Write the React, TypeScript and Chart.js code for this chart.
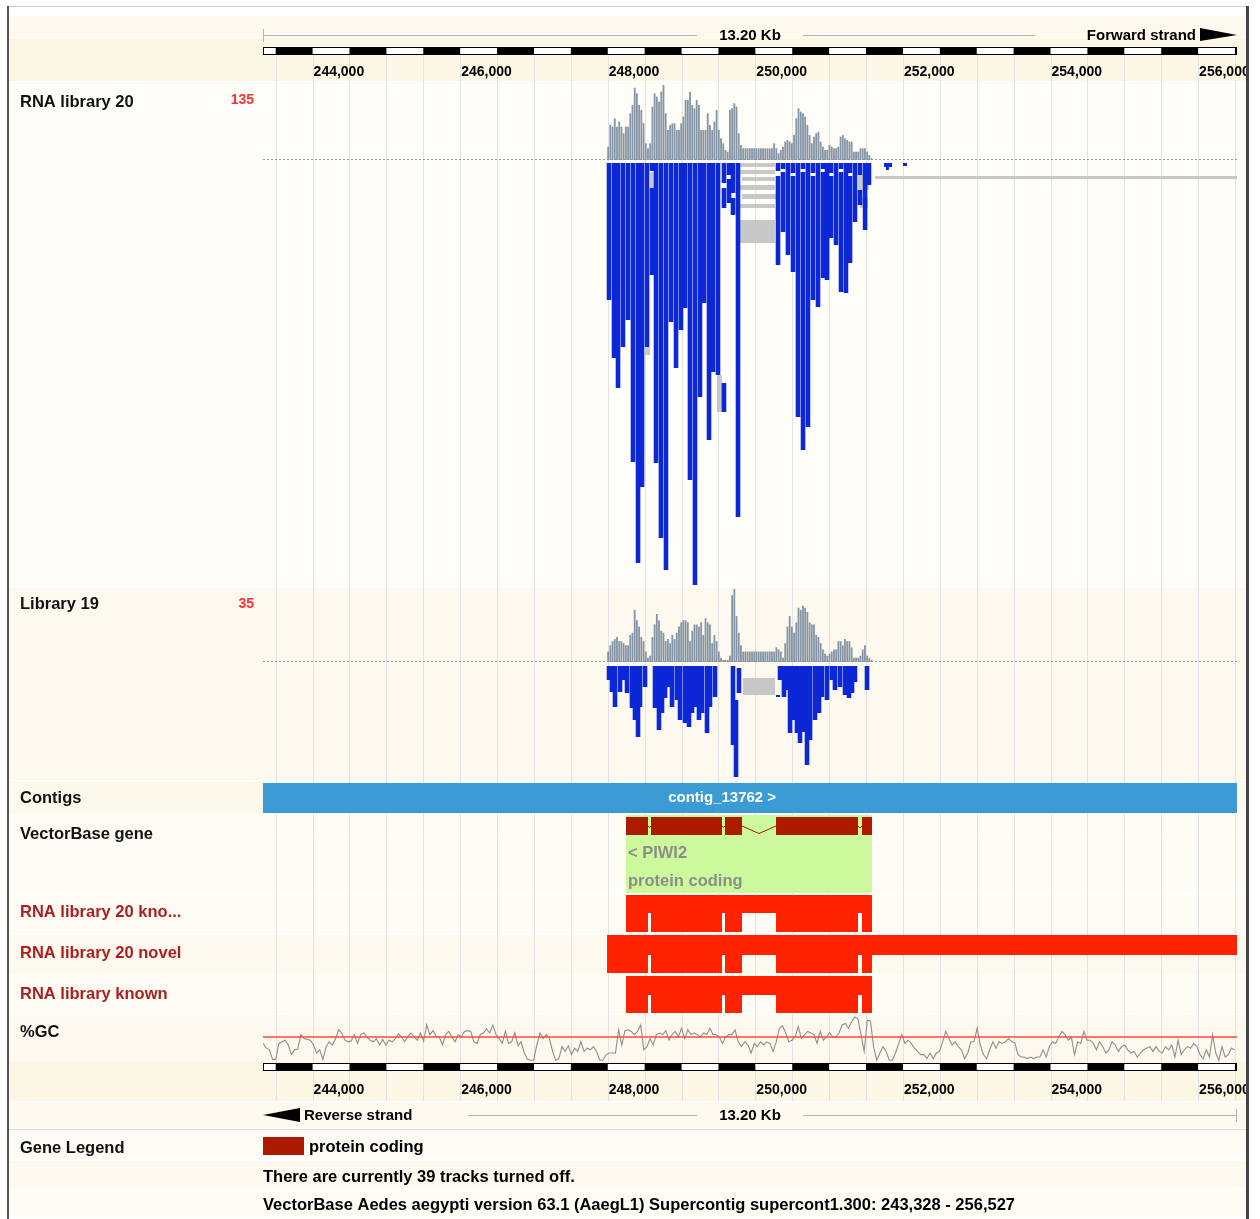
import React, { useEffect, useRef } from 'react';
import { Chart, registerables } from 'chart.js';

Chart.register(...registerables);

/* ======================= DATA ======================= */
const VIEW_START = 243328;
const VIEW_END = 256527;
const RULER_TICKS = [244000, 246000, 248000, 250000, 252000, 254000, 256000];
const GRID_STEP = 500;
const RULER_SEGMENT = 500;
const ASSEMBLY_TEXT = 'VectorBase Aedes aegypti version 63.1 (AaegL1) Supercontig supercont1.300';
const TRACKS_OFF = 39;

// coverage histograms (30 bp bins)
const COV_START = 247990;
const COV_BIN = 30;
const COV20_MAX = 135;
const COV20 = [
  24, 63, 60, 75, 60, 69, 60, 48, 60, 60, 84, 99, 130, 120, 99, 90, 66, 30, 21, 30,
  96, 120, 114, 105, 123, 135, 84, 54, 63, 66, 66, 54, 54, 66, 78, 108, 108, 123, 99, 93,
  108, 99, 54, 54, 54, 84, 63, 54, 69, 90, 54, 39, 30, 18, 15, 90, 93, 102, 96, 48,
  27, 21, 21, 21, 21, 21, 21, 21, 21, 21, 21, 21, 21, 21, 21, 30, 21, 12, 18, 24,
  33, 36, 33, 30, 45, 75, 93, 87, 84, 78, 63, 45, 30, 42, 48, 51, 33, 24, 18, 18,
  27, 24, 21, 21, 24, 42, 45, 39, 36, 33, 33, 15, 15, 15, 21, 21, 21, 15, 9, 3,
];
const COV19_MAX = 35;
const COV19 = [
  5, 8, 10, 11, 12, 10, 10, 9, 8, 8, 13, 14, 25, 20, 17, 12, 10, 5, 2, 3,
  12, 18, 23, 20, 15, 14, 10, 11, 9, 13, 11, 14, 17, 19, 20, 20, 19, 10, 15, 18,
  18, 17, 19, 13, 21, 19, 18, 9, 13, 10, 5, 2, 1, 1, 1, 3, 32, 35, 22, 14,
  8, 5, 5, 5, 5, 5, 5, 5, 5, 5, 5, 5, 5, 5, 5, 5, 7, 6, 5, 2,
  9, 17, 22, 17, 14, 19, 26, 25, 27, 26, 24, 19, 18, 18, 13, 12, 9, 6, 4, 3,
  4, 5, 6, 6, 10, 10, 8, 11, 10, 10, 7, 2, 2, 2, 3, 6, 8, 3, 2, 1,
];

// RNA library 20 read piles (position bp, depth from / to in read rows)
const R20_POS = [
  248017, 248085, 248139, 248206, 248274, 248342, 248410, 248464, 248532, 248600, 248600,
  248654, 248721, 248789, 248857, 248925, 248992, 249047, 249114, 249182, 249250, 249304,
  249372, 249426, 249494, 249575, 249575, 249575, 249643, 249643, 249697, 249697, 249765,
  250307, 250307, 250375, 250375, 250442, 250510, 250510, 250578, 250646, 250646, 250713,
  250781, 250781, 250849, 250917, 250917, 250971, 251025, 251025, 251093, 251161, 251161,
  251228, 251283, 251283, 251350, 251418, 251418, 251487, 251540,
];
const R20_FROM = [
  0, 0, 0, 0, 0, 0, 0, 0, 0, 0, 25,
  0, 0, 0, 0, 0, 0, 0, 0, 0, 0, 0,
  0, 0, 0, 0, 25, 220, 0, 16, 0, 35, 0,
  0, 13, 0, 9, 0, 0, 13, 0, 0, 9, 0,
  0, 13, 0, 0, 9, 0, 0, 13, 0, 0, 9,
  0, 0, 13, 0, 0, 27, 0, 0,
];
const R20_TO = [
  137, 195, 225, 184, 157, 299, 400, 324, 184, 8, 112,
  300, 375, 407, 159, 205, 167, 145, 317, 422, 234, 140,
  277, 209, 212, 20, 45, 249, 12, 40, 30, 52, 354,
  8, 102, 6, 69, 92, 10, 109, 254, 6, 287, 264,
  10, 137, 144, 6, 115, 117, 10, 75, 82, 6, 129,
  130, 10, 100, 59, 12, 42, 67, 22,
];
// RNA library 20 gapped / spliced parts (grey)
const G20_START = [249792, 249792, 249819, 249792, 249819, 249792, 249792, 249480, 248505, 248572, 251391, 251418, 251621];
const G20_END = [250266, 250266, 250266, 250266, 250280, 250266, 250266, 249548, 248572, 248640, 251540, 251527, 256527];
const G20_FROM = [0, 7, 14, 22, 31, 41, 57, 212, 184, 9, 12, 34, 13];
const G20_TO = [4, 11, 18, 27, 36, 45, 80, 249, 192, 25, 27, 45, 16];
// RNA library 20 short isolated reads
const B20_START = [251743, 251770, 252001];
const B20_END = [251852, 251810, 252055];
const B20_FROM = [0, 4, 0];
const B20_TO = [4, 7, 3];

// Library 19 read piles
const R19_POS = [
  248017, 248057, 248098, 248166, 248220, 248261, 248328, 248369, 248410, 248437, 248505,
  248640, 248694, 248735, 248776, 248830, 248871, 248938, 248979, 249047, 249101, 249142,
  249182, 249236, 249277, 249345, 249385, 249453, 249697, 249738, 249778,
  250334, 250388, 250429, 250470, 250524, 250564, 250605, 250659, 250700, 250741, 250808,
  250863, 250903, 250971, 251039, 251079, 251147, 251215, 251269, 251310, 251350, 251513,
];
const R19_FROM = [
  0, 0, 0, 0, 0, 0, 0, 0, 0, 0, 0,
  0, 0, 0, 0, 0, 0, 0, 0, 0, 0, 0,
  0, 0, 0, 0, 0, 0, 0, 34, 2,
  0, 0, 0, 0, 0, 0, 0, 0, 0, 0, 0,
  0, 0, 0, 0, 0, 0, 0, 0, 0, 0, 0,
];
const R19_TO = [
  14, 26, 41, 26, 14, 27, 42, 54, 71, 41, 21,
  42, 64, 47, 32, 21, 41, 34, 54, 57, 61, 47,
  41, 54, 47, 67, 41, 31, 79, 111, 27,
  14, 31, 24, 67, 54, 67, 77, 66, 99, 74, 54,
  47, 31, 34, 14, 24, 21, 29, 32, 27, 16, 24,
];
const G19_START = [249833];
const G19_END = [250266];
const G19_FROM = [12];
const G19_TO = [29];
const B19_START = [250280];
const B19_END = [250334];
const B19_FROM = [29];
const B19_TO = [31];

// contig
const CONTIG_NAME = 'contig_13762';
const CONTIG_START = 243328;
const CONTIG_END = 256527;
const CONTIG_LABEL_AT = 249550;

// gene
const GENE_NAME = 'PIWI2';
const GENE_BIOTYPE = 'protein coding';
const GENE_START = 248247;
const GENE_END = 251581;
const EXON_START = [248247, 248586, 249589, 250280, 251445];
const EXON_END = [248545, 249548, 249819, 251391, 251581];

// RNA-seq transcript models
const KNO_SPAN = [248247, 251581];
const KNO_EXON_START = [248247, 248586, 249589, 250280, 251445];
const KNO_EXON_END = [248545, 249548, 249819, 251391, 251581];
const NOVEL_SPAN = [247990, 256527];
const NOVEL_EXON_START = [247990, 248586, 249589, 250280, 251445];
const NOVEL_EXON_END = [248545, 249548, 249819, 251391, 251581];
const KNOWN_SPAN = [248247, 251581];
const KNOWN_EXON_START = [248247, 248586, 249589, 250280, 251445];
const KNOWN_EXON_END = [248545, 249548, 249819, 251391, 251581];

// %GC
const GC_MIN = 20;
const GC_MAX = 80;
const GC_THRESHOLD = 50;
const GC_A_START = 243330;
const GC_A_END = 249810;
const GC_A = [
  42, 36, 34, 22, 22, 42, 44, 46, 40, 28, 34, 35, 53, 48, 47, 46, 40, 30, 34, 22,
  38, 44, 40, 48, 59, 55, 46, 44, 45, 53, 42, 53, 55, 50, 46, 44, 48, 40, 47, 40,
  46, 44, 48, 54, 50, 44, 51, 55, 50, 46, 55, 45, 65, 53, 58, 51, 50, 40, 53, 57,
  50, 44, 53, 50, 57, 58, 57, 44, 42, 53, 55, 60, 55, 65, 53, 48, 42, 57, 42, 44,
  55, 39, 44, 30, 22, 21, 21, 40, 55, 48, 53, 48, 32, 21, 23, 38, 32, 39, 28, 36,
  32, 44, 32, 36, 34, 38, 32, 21, 21, 28, 30, 30, 30, 59, 40, 58, 59, 57, 53, 57,
  65, 34, 38, 48, 40, 53, 55, 53, 58, 46, 53, 57, 50, 61, 48, 59, 53, 55, 53, 50,
  55, 53, 61, 53, 53, 50, 42, 50, 53, 53, 59, 44, 38,
];
const GC_B_START = 249858;
const GC_B_END = 256494;
const GC_B = [
  44, 40, 30, 42, 38, 44, 40, 44, 42, 32, 44, 61, 64, 55, 44, 46, 50, 63, 48, 53,
  57, 55, 53, 42, 57, 46, 50, 55, 50, 50, 55, 65, 67, 61, 69, 75, 73, 53, 32, 71,
  70, 38, 21, 30, 38, 32, 21, 21, 30, 42, 53, 42, 46, 42, 36, 32, 28, 28, 23, 30,
  23, 30, 32, 44, 57, 48, 40, 44, 38, 34, 23, 30, 44, 44, 61, 40, 28, 23, 34, 44,
  36, 44, 42, 44, 48, 44, 43, 28, 25, 25, 23, 25, 23, 25, 25, 34, 25, 38, 44, 42,
  50, 57, 53, 46, 50, 28, 44, 42, 57, 46, 46, 42, 34, 44, 38, 30, 34, 44, 40, 32,
  38, 40, 34, 30, 32, 25, 30, 34, 36, 38, 32, 38, 32, 30, 38, 34, 40, 25, 46, 28,
  34, 38, 36, 42, 38, 28, 23, 34, 25, 53, 30, 21, 38, 25, 28, 36, 34,
];

const TRACK_LABELS = ['RNA library 20', 'Library 19', 'Contigs', 'VectorBase gene', 'RNA library 20 kno...', 'RNA library 20 novel', 'RNA library known', '%GC', 'Gene Legend'];
const LEGEND_TEXT = 'protein coding';

/* ======================= LAYOUT / STYLE ======================= */
const W = 1260;
const H = 1219;
const PLOT_L = 263;
const PLOT_R = 1237;
const FRAME_L = 9;
const FRAME_R = 1246;
const L = {
  cov20Base: 160, cov20H: 75, reads20Top: 163,
  cov19Base: 662, cov19H: 73, reads19Top: 666,
  contig: [783, 813], gene: [815, 893], exon: [817, 835], intronY: 826,
  kno: [895, 913, 932], novel: [935, 955, 973], known: [976, 995, 1013],
  gcTop: 1013, gcBottom: 1061,
  rulerTop: 47, rulerBottom: 1063, rulerH: 8,
  gridTop: 55, gridBottom: 1101,
};
const LABEL_Y = [107, 609, 803, 839, 917, 958, 999, 1037, 1153];
const LABEL_COLOR = ['#111', '#111', '#111', '#111', '#ac1f1f', '#ac1f1f', '#ac1f1f', '#111', '#111'];
const ROW_BANDS: [number, number, string][] = [
  [16, 37, '#fdf9ee'], [38, 81, '#fcf6e5'], [82, 586, '#fffdf8'], [588, 780, '#fdf9ef'],
  [781, 814, '#fdf8ec'], [815, 894, '#fffcf6'], [895, 933, '#fffcf6'], [935, 974, '#fdf9ef'],
  [975, 1014, '#fffcf6'], [1015, 1062, '#fdf9ef'], [1062, 1101, '#fcf6e5'], [1103, 1128, '#fdf9ee'],
  [1130, 1159, '#fffcf6'], [1161, 1188, '#fdf9ef'], [1190, 1217, '#fffcf6'],
];
const C = {
  cov: '#8494a4', read: '#0b27d6', grey: '#c8c8c8', contig: '#3b9bd4', geneBox: '#ccf99c',
  exon: '#ad1a00', rna: '#ff2200', gc: '#8e8e8e', gcLine: '#ff4a38', grid: '#e3e3e3',
};
const FONT = (size: number, bold = true) => `${bold ? 'bold ' : ''}${size}px "Liberation Sans", Arial, Helvetica, sans-serif`;
const fmt = (n: number) => String(n).replace(/\B(?=(\d{3})+(?!\d))/g, ',');

/* ======================= DATASETS ======================= */
type Rect = { s: number; e: number; t: number; b: number };

function buildDatasets() {
  const ds: any[] = [];
  const pxPerBp = (PLOT_R - PLOT_L) / (VIEW_END - VIEW_START);

  const rectSets = (rects: Rect[], color: string, order: number) => {
    const groups = new Map<number, any[]>();
    rects.forEach((r) => {
      const th = r.b - r.t;
      if (!groups.has(th)) groups.set(th, []);
      groups.get(th)!.push({ x: [r.s, r.e], y: (r.t + r.b) / 2 });
    });
    groups.forEach((data, th) => {
      ds.push({ type: 'bar', indexAxis: 'y', grouped: false, barThickness: th, data, backgroundColor: color, borderWidth: 0, inflateAmount: 0, order });
    });
  };
  const toRects = (s: number[], e: number[], f: number[], t: number[], top: number): Rect[] =>
    s.map((v, i) => ({ s: v, e: e[i], t: top + f[i], b: top + t[i] }));
  const colSet = (pos: number[], from: number[], to: number[], top: number) => ({
    type: 'bar', indexAxis: 'x', grouped: false, barThickness: 4.6, backgroundColor: C.read, borderWidth: 0, inflateAmount: 0, order: 4,
    data: pos.map((p, i) => ({ x: p, y: [top + from[i], top + to[i]] })),
  });
  const covSet = (vals: number[], max: number, base: number, h: number) => ({
    type: 'bar', indexAxis: 'x', grouped: false, barThickness: 1.8, backgroundColor: C.cov, borderWidth: 0, inflateAmount: 0, order: 5,
    data: vals.map((v, i) => ({ x: COV_START + (i + 0.5) * COV_BIN, y: [base, base - (v / max) * h] })),
  });

  // coverage
  ds.push(covSet(COV20, COV20_MAX, L.cov20Base, L.cov20H));
  ds.push(covSet(COV19, COV19_MAX, L.cov19Base, L.cov19H));
  // reads
  ds.push(colSet(R20_POS, R20_FROM, R20_TO, L.reads20Top));
  ds.push(colSet(R19_POS, R19_FROM, R19_TO, L.reads19Top));
  rectSets(toRects(B20_START, B20_END, B20_FROM, B20_TO, L.reads20Top), C.read, 4);
  rectSets(toRects(B19_START, B19_END, B19_FROM, B19_TO, L.reads19Top), C.read, 4);
  rectSets(toRects(G20_START, G20_END, G20_FROM, G20_TO, L.reads20Top), C.grey, 6);
  rectSets(toRects(G19_START, G19_END, G19_FROM, G19_TO, L.reads19Top), C.grey, 6);

  // contig
  rectSets([{ s: CONTIG_START, e: CONTIG_END, t: L.contig[0], b: L.contig[1] }], C.contig, 5);
  // gene
  rectSets([{ s: GENE_START, e: GENE_END, t: L.gene[0], b: L.gene[1] }], C.geneBox, 9);
  rectSets(EXON_START.map((s, i) => ({ s, e: EXON_END[i], t: L.exon[0], b: L.exon[1] })), C.exon, 5);
  for (let i = 0; i < EXON_START.length - 1; i++) {
    const s = EXON_END[i];
    const e = EXON_START[i + 1];
    const depth = Math.min(7.5, ((e - s) * pxPerBp) / 2);
    ds.push({
      type: 'line', order: 3, borderColor: C.exon, borderWidth: 1, pointRadius: 0, tension: 0, fill: false,
      data: [{ x: s, y: L.intronY }, { x: (s + e) / 2, y: L.intronY + depth }, { x: e, y: L.intronY }],
    });
  }
  // RNA-seq models
  const model = (span: number[], es: number[], ee: number[], rows: number[]) => {
    rectSets([{ s: span[0], e: span[1], t: rows[0], b: rows[1] }], C.rna, 5);
    rectSets(es.map((s, i) => ({ s, e: ee[i], t: rows[1], b: rows[2] })), C.rna, 5);
  };
  model(KNO_SPAN, KNO_EXON_START, KNO_EXON_END, L.kno);
  model(NOVEL_SPAN, NOVEL_EXON_START, NOVEL_EXON_END, L.novel);
  model(KNOWN_SPAN, KNOWN_EXON_START, KNOWN_EXON_END, L.known);

  // %GC
  const gcY = (v: number) => L.gcBottom - ((v - GC_MIN) / (GC_MAX - GC_MIN)) * (L.gcBottom - L.gcTop);
  const series = (vals: number[], s: number, e: number) =>
    vals.map((v, i) => ({ x: s + (i * (e - s)) / (vals.length - 1), y: gcY(v) }));
  ds.push({
    type: 'line', order: 2, borderColor: C.gcLine, borderWidth: 1.5, pointRadius: 0, fill: false,
    data: [{ x: VIEW_START, y: gcY(GC_THRESHOLD) }, { x: VIEW_END, y: gcY(GC_THRESHOLD) }],
  });
  ds.push({
    type: 'line', order: 3, borderColor: C.gc, borderWidth: 1.1, pointRadius: 0, tension: 0, fill: false,
    data: [...series(GC_A, GC_A_START, GC_A_END), ...series(GC_B, GC_B_START, GC_B_END)],
  });
  return ds;
}

/* ======================= DECORATION PLUGIN ======================= */
const decor = {
  id: 'decor',
  beforeDatasetsDraw(chart: any) {
    const { ctx } = chart;
    const xs = chart.scales.x;
    const px = (v: number) => xs.getPixelForValue(v);
    const x0 = px(VIEW_START);
    const x1 = px(VIEW_END);
    ctx.save();
    for (const [t, b, c] of ROW_BANDS) {
      ctx.fillStyle = c;
      ctx.fillRect(FRAME_L, t, FRAME_R - FRAME_L, b - t);
    }
    ctx.strokeStyle = C.grid;
    ctx.lineWidth = 1;
    ctx.beginPath();
    for (let v = Math.ceil(VIEW_START / GRID_STEP) * GRID_STEP; v <= VIEW_END; v += GRID_STEP) {
      const x = Math.round(px(v)) + 0.5;
      ctx.moveTo(x, L.gridTop);
      ctx.lineTo(x, L.gridBottom);
    }
    ctx.stroke();
    ctx.setLineDash([2, 2]);
    ctx.strokeStyle = '#8d9bab';
    for (const y of [L.cov20Base, L.cov19Base]) {
      ctx.beginPath();
      ctx.moveTo(x0, y - 0.5);
      ctx.lineTo(x1, y - 0.5);
      ctx.stroke();
    }
    ctx.restore();
  },
  afterDatasetsDraw(chart: any) {
    const { ctx } = chart;
    const xs = chart.scales.x;
    const px = (v: number) => xs.getPixelForValue(v);
    const x0 = px(VIEW_START);
    const x1 = px(VIEW_END);
    const mid = (x0 + x1) / 2;
    ctx.save();
    ctx.textBaseline = 'alphabetic';

    // ruler bars
    const bar = (y: number) => {
      ctx.fillStyle = '#fff';
      ctx.fillRect(x0, y, x1 - x0, L.rulerH);
      ctx.fillStyle = '#000';
      const step = 2 * RULER_SEGMENT;
      for (let s = Math.floor(VIEW_START / step) * step + RULER_SEGMENT; s < VIEW_END; s += step) {
        const a = px(Math.max(s, VIEW_START));
        const b = px(Math.min(s + RULER_SEGMENT, VIEW_END));
        if (b > a) ctx.fillRect(a, y, b - a, L.rulerH);
      }
      ctx.strokeStyle = '#000';
      ctx.lineWidth = 1;
      ctx.strokeRect(Math.round(x0) + 0.5, y + 0.5, Math.round(x1 - x0) - 1, L.rulerH - 1);
    };
    bar(L.rulerTop);
    bar(L.rulerBottom);

    // tick labels
    ctx.save();
    ctx.beginPath();
    ctx.rect(0, 0, FRAME_R, H);
    ctx.clip();
    ctx.font = FONT(14);
    ctx.fillStyle = '#000';
    ctx.textAlign = 'left';
    for (const t of RULER_TICKS) {
      ctx.fillText(fmt(t), px(t) + 1, 76);
      ctx.fillText(fmt(t), px(t) + 1, 1094);
    }
    ctx.restore();

    // header / footer of ruler
    const len = ((VIEW_END - VIEW_START + 1) / 1000).toFixed(2) + ' Kb';
    ctx.font = FONT(15);
    const lw = ctx.measureText(len).width;
    ctx.textAlign = 'center';
    ctx.fillStyle = '#000';
    ctx.fillText(len, mid, 40);
    ctx.fillText(len, mid, 1120);
    ctx.textAlign = 'right';
    const fwd = 'Forward strand';
    const fwdW = ctx.measureText(fwd).width;
    ctx.fillText(fwd, x1 - 41, 40);
    ctx.textAlign = 'left';
    const rev = 'Reverse strand';
    const revW = ctx.measureText(rev).width;
    ctx.fillText(rev, x0 + 41, 1120);
    ctx.strokeStyle = '#b4b4b4';
    ctx.lineWidth = 1;
    ctx.beginPath();
    ctx.moveTo(x0, 35.5); ctx.lineTo(mid - lw / 2 - 22, 35.5);
    ctx.moveTo(mid + lw / 2 + 22, 35.5); ctx.lineTo(x1 - 41 - fwdW - 52, 35.5);
    ctx.moveTo(Math.round(x0) + 0.5, 29); ctx.lineTo(Math.round(x0) + 0.5, 42);
    ctx.moveTo(x0 + 41 + revW + 55, 1115.5); ctx.lineTo(mid - lw / 2 - 22, 1115.5);
    ctx.moveTo(mid + lw / 2 + 22, 1115.5); ctx.lineTo(x1, 1115.5);
    ctx.moveTo(Math.round(x1) - 0.5, 1109); ctx.lineTo(Math.round(x1) - 0.5, 1122);
    ctx.stroke();
    ctx.fillStyle = '#000';
    ctx.beginPath();
    ctx.moveTo(x1 - 37, 28); ctx.lineTo(x1, 35); ctx.lineTo(x1 - 37, 41); ctx.closePath();
    ctx.fill();
    ctx.beginPath();
    ctx.moveTo(x0, 1115); ctx.lineTo(x0 + 37, 1108); ctx.lineTo(x0 + 37, 1122); ctx.closePath();
    ctx.fill();
    ctx.strokeStyle = '#dcdcdc';
    ctx.beginPath();
    ctx.moveTo(FRAME_L, 1129.5); ctx.lineTo(FRAME_R, 1129.5);
    ctx.stroke();

    // track labels
    ctx.textAlign = 'left';
    ctx.font = FONT(16.5);
    TRACK_LABELS.forEach((t, i) => {
      ctx.fillStyle = LABEL_COLOR[i];
      ctx.fillText(t, 20, LABEL_Y[i]);
    });
    ctx.font = FONT(14);
    ctx.fillStyle = '#ff3030';
    ctx.textAlign = 'right';
    ctx.fillText(String(COV20_MAX), 254, 104);
    ctx.fillText(String(COV19_MAX), 254, 608);

    // contig / gene labels
    ctx.textAlign = 'center';
    ctx.font = FONT(15);
    ctx.fillStyle = '#fff';
    ctx.fillText(`${CONTIG_NAME} >`, px(CONTIG_LABEL_AT), 802);
    ctx.textAlign = 'left';
    ctx.font = FONT(16.5);
    ctx.fillStyle = '#8c8c8c';
    ctx.fillText(`< ${GENE_NAME}`, px(GENE_START) + 2, 858);
    ctx.fillText(GENE_BIOTYPE, px(GENE_START) + 2, 886);

    // legend + footer
    ctx.fillStyle = C.exon;
    ctx.fillRect(x0, 1137, 41, 18);
    ctx.fillStyle = '#000';
    ctx.font = FONT(16.5);
    ctx.fillText(LEGEND_TEXT, x0 + 46, 1152);
    ctx.fillText(`There are currently ${TRACKS_OFF} tracks turned off.`, x0, 1182);
    ctx.fillText(`${ASSEMBLY_TEXT}: ${fmt(VIEW_START)} - ${fmt(VIEW_END)}`, x0, 1210);

    // frame
    ctx.fillStyle = '#cfcfcf';
    ctx.fillRect(7, 6, 1242, 1);
    ctx.fillStyle = '#555';
    ctx.fillRect(7, 6, 2, H - 6);
    ctx.fillStyle = '#444';
    ctx.fillRect(FRAME_R, 6, 3, H - 6);
    ctx.restore();
  },
};

/* ======================= COMPONENT ======================= */
export default function App() {
  const ref = useRef<HTMLCanvasElement | null>(null);
  useEffect(() => {
    if (!ref.current) return;
    const chart = new Chart(ref.current, {
      type: 'bar',
      data: { datasets: buildDatasets() },
      options: {
        responsive: false,
        animation: false,
        events: [],
        layout: { padding: { left: PLOT_L, right: W - PLOT_R, top: 0, bottom: 0 } },
        plugins: { legend: { display: false }, tooltip: { enabled: false }, title: { display: false } },
        scales: {
          x: { type: 'linear', min: VIEW_START, max: VIEW_END, display: false, offset: false, bounds: 'data', grid: { offset: false } },
          y: { type: 'linear', min: 0, max: H, reverse: true, display: false, offset: false, bounds: 'data', beginAtZero: false, grid: { offset: false } },
        },
      } as any,
      plugins: [decor],
    } as any);
    return () => chart.destroy();
  }, []);
  return (
    <div style={{ position: 'absolute', left: 0, top: 0, width: W, height: H, background: '#fff' }}>
      <canvas ref={ref} width={W} height={H} style={{ display: 'block' }} />
    </div>
  );
}
